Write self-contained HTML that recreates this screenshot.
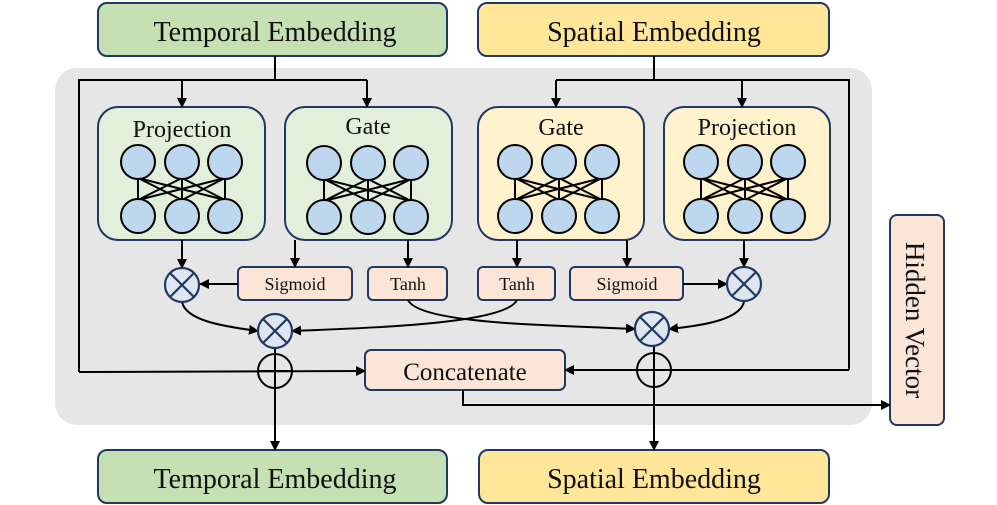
<!DOCTYPE html>
<html><head><meta charset="utf-8"><style>body{margin:0;background:#fff}svg{display:block}text{font-family:"Liberation Serif",serif;fill:#111}</style></head><body>
<svg width="997" height="505" viewBox="0 0 997 505" xmlns="http://www.w3.org/2000/svg">
<defs><marker id="a" markerWidth="10" markerHeight="10" refX="9" refY="5" orient="auto" markerUnits="userSpaceOnUse"><path d="M0,0 L10,5 L0,10 z" fill="#000"/></marker></defs>
<rect x="55" y="68" width="817" height="357" rx="22" fill="#e6e6e6"/>
<g stroke="#1f3864" stroke-width="2">
<rect x="98" y="3" width="349" height="53" rx="9" fill="#c5e0b3"/>
<rect x="478" y="3" width="351" height="53" rx="9" fill="#ffe699"/>
<rect x="98" y="450" width="349" height="53" rx="9" fill="#c5e0b3"/>
<rect x="479" y="450" width="350" height="53" rx="9" fill="#ffe699"/>
<rect x="98" y="107" width="167" height="133" rx="20" fill="#e2efda"/>
<rect x="285" y="107" width="167" height="133" rx="20" fill="#e2efda"/>
<rect x="478" y="107" width="166" height="133" rx="20" fill="#fff2cc"/>
<rect x="664" y="107" width="166" height="133" rx="20" fill="#fff2cc"/>
<rect x="238" y="267" width="114" height="33" rx="5" fill="#fbe5d6"/>
<rect x="368" y="267" width="79" height="33" rx="5" fill="#fbe5d6"/>
<rect x="478" y="267" width="77" height="33" rx="5" fill="#fbe5d6"/>
<rect x="570" y="267" width="113" height="33" rx="5" fill="#fbe5d6"/>
<rect x="365" y="350" width="200" height="40" rx="6" fill="#fbe5d6"/>
<rect x="890" y="215" width="54" height="210" rx="7" fill="#fbe5d6"/>
</g>
<g font-size="28" text-anchor="middle">
<text x="275" y="41">Temporal Embedding</text>
<text x="654" y="41">Spatial Embedding</text>
<text x="275" y="488">Temporal Embedding</text>
<text x="654" y="488">Spatial Embedding</text>
</g>
<g font-size="24" text-anchor="middle">
<text x="182" y="137">Projection</text>
<text x="368" y="134">Gate</text>
<text x="561" y="135">Gate</text>
<text x="747" y="135">Projection</text>
<text x="465" y="380" font-size="25">Concatenate</text>
<text transform="translate(906,320) rotate(90)" y="0" font-size="27">Hidden Vector</text>
</g>
<g font-size="18" text-anchor="middle">
<text x="295" y="290">Sigmoid</text>
<text x="408" y="290">Tanh</text>
<text x="517" y="290">Tanh</text>
<text x="627" y="290">Sigmoid</text>
</g>
<g stroke="#000" stroke-width="2" fill="none">
<path d="M275,56V80M79,372V80H367M182,80V107" />
<path d="M367,80V107" marker-end="url(#a)"/>
<path d="M182,80V107" marker-end="url(#a)"/>
<path d="M654,56V80M556,80H849V370"/>
<path d="M556,80V107" marker-end="url(#a)"/>
<path d="M742,80V107" marker-end="url(#a)"/>
<path d="M182,240V268" marker-end="url(#a)"/>
<path d="M295,240V267" marker-end="url(#a)"/>
<path d="M408,240V267" marker-end="url(#a)"/>
<path d="M517,240V267" marker-end="url(#a)"/>
<path d="M627,240V267" marker-end="url(#a)"/>
<path d="M744,240V267" marker-end="url(#a)"/>
<path d="M238,284H200" marker-end="url(#a)"/>
<path d="M683,284H727" marker-end="url(#a)"/>
<path d="M182,302C186,320 220,326 258,331" marker-end="url(#a)"/>
<path d="M408,300C420,325 560,325 635,329" marker-end="url(#a)"/>
<path d="M517,300C505,325 360,328 292,331" marker-end="url(#a)"/>
<path d="M744,302C740,318 710,325 669,329" marker-end="url(#a)"/>
<path d="M79,372L365,371" marker-end="url(#a)"/>
<path d="M849,370L565,370" marker-end="url(#a)"/>
<path d="M463,390V405H890" marker-end="url(#a)"/>
<path d="M275,348V450" marker-end="url(#a)"/>
<path d="M654,346V450" marker-end="url(#a)"/>
<circle cx="275" cy="371" r="17"/><path d="M258,371H292"/>
<circle cx="654" cy="370" r="17"/><path d="M637,370H671"/>
</g>
<g stroke="#1f3864" stroke-width="2.2" fill="#dfe6ef">
<circle cx="182" cy="285" r="17"/><circle cx="275" cy="331" r="17"/>
<circle cx="652" cy="329" r="17"/><circle cx="744" cy="284" r="17"/>
</g>
<g stroke="#1f3864" stroke-width="2.2">
<path d="M170,273L194,297M194,273L170,297"/>
<path d="M263,319L287,343M287,319L263,343"/>
<path d="M640,317L664,341M664,317L640,341"/>
<path d="M732,272L756,296M756,272L732,296"/>
</g>
<g stroke="#000" stroke-width="2" fill="#bdd7ee">
<g id="n1"><path d="M138,178L138,200M182,178L182,200M225,178L225,200M138,178L182,200M138,178L225,200M182,178L138,200M182,178L225,200M225,178L138,200M225,178L182,200"/>
<circle cx="138" cy="162" r="17"/><circle cx="182" cy="162" r="17"/><circle cx="225" cy="162" r="17"/>
<circle cx="138" cy="216" r="17"/><circle cx="182" cy="216" r="17"/><circle cx="225" cy="216" r="17"/></g>
<use href="#n1" transform="translate(186,1)"/>
<use href="#n1" transform="translate(377,0)"/>
<use href="#n1" transform="translate(563,0)"/>
</g>
</svg>
</body></html>
